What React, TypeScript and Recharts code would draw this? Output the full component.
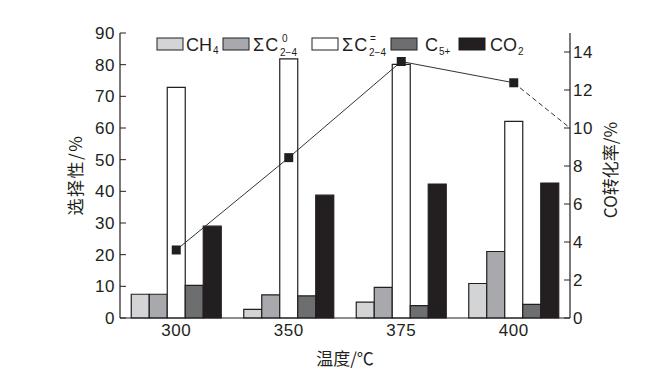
import React from 'react';
import { ComposedChart, Bar, Line, XAxis, YAxis, Customized } from 'recharts';

const temps = ['300', '350', '375', '400'];
const ch4 = [7.5, 2.7, 5.0, 10.9];
const c0 = [7.5, 7.3, 9.7, 21.0];
const cEq = [72.8, 81.8, 80.1, 62.1];
const c5 = [10.3, 7.0, 3.9, 4.3];
const co2 = [29.0, 38.8, 42.3, 42.6];
const coConv = [3.58, 8.44, 13.5, 12.38];
const coConvTrendEnd = 10.0;

const leftTicks = [0, 10, 20, 30, 40, 50, 60, 70, 80, 90];
const rightTicks = [0, 2, 4, 6, 8, 10, 12, 14];

const colors = {
  ch4: '#d3d4d6',
  c0: '#a8a9ac',
  cEq: '#ffffff',
  c5: '#6d6e70',
  co2: '#231f20',
};
const INK = '#231f20';
const FONT = '"Liberation Sans", Arial, sans-serif';
const CJK = '"Noto Sans CJK SC", "Liberation Sans", sans-serif';

const data = temps.map((t, i) => ({
  t,
  ch4: ch4[i],
  c0: c0[i],
  cEq: cEq[i],
  c5: c5[i],
  co2: co2[i],
}));

const lineData = temps.map((t, i) => ({ x: i + 0.5, v: coConv[i] }));
const dashData = [
  { x: temps.length - 0.5, v: coConv[coConv.length - 1] },
  { x: temps.length, v: coConvTrendEnd },
];

const SquareDot = (props: any) => {
  const { cx, cy } = props;
  if (cx == null || cy == null) return null;
  return <rect x={cx - 4.5} y={cy - 4.5} width={9} height={9} fill={INK} />;
};

const Decor = () => {
  const ty = 51;
  const sw = (x: number, fill: string) => (
    <rect x={x} y={38} width={26} height={12} fill={fill} stroke={INK} strokeWidth={1} />
  );
  const t = { fontFamily: FONT, fill: INK } as any;
  return (
    <g>
      {sw(157, colors.ch4)}
      <text x={186} y={ty} fontSize={18} {...t}>CH</text>
      <text x={213} y={ty + 3} fontSize={10} {...t}>4</text>

      {sw(223, colors.c0)}
      <text x={253} y={ty} fontSize={18} {...t} letterSpacing={1}>ΣC</text>
      <text x={282} y={ty - 9} fontSize={10} {...t}>0</text>
      <text x={280} y={ty + 5} fontSize={10} {...t}>2−4</text>

      {sw(312, colors.cEq)}
      <text x={342} y={ty} fontSize={18} {...t} letterSpacing={1}>ΣC</text>
      <text x={370} y={ty - 9} fontSize={10} {...t}>=</text>
      <text x={369} y={ty + 5} fontSize={10} {...t}>2−4</text>

      {sw(391, colors.c5)}
      <text x={425} y={ty} fontSize={18} {...t}>C</text>
      <text x={439} y={ty + 4} fontSize={10} {...t}>5+</text>

      {sw(459, colors.co2)}
      <text x={490} y={ty} fontSize={18} {...t}>CO</text>
      <text x={518} y={ty + 4} fontSize={10} {...t}>2</text>

      <text
        x={74}
        y={175}
        transform="rotate(-90 74 175)"
        textAnchor="middle"
        dominantBaseline="central"
        fontSize={17}
        letterSpacing={1.5}
        fontFamily={CJK}
        fill={INK}
      >
        选择性/%
      </text>
      <text
        x={609}
        y={170}
        transform="rotate(-90 609 170)"
        textAnchor="middle"
        dominantBaseline="central"
        fontSize={17}
        fontFamily={CJK}
        fill={INK}
      >
        CO转化率/%
      </text>
      <text
        x={345}
        y={357}
        textAnchor="middle"
        dominantBaseline="central"
        fontSize={17}
        fontFamily={CJK}
        fill={INK}
      >
        温度/℃
      </text>
    </g>
  );
};

const tickStyle = { fontSize: 17, fontFamily: FONT, fill: INK, letterSpacing: 0.5 };

export default function App() {
  return (
    <div style={{ position: 'absolute', left: 0, top: 0, background: '#fff' }}>
      <ComposedChart
        width={661}
        height={375}
        data={data}
        margin={{ top: 33, right: 31, bottom: 0, left: 60 }}
        barCategoryGap="10%"
        barGap={0}
      >
        <XAxis
          xAxisId="cat"
          dataKey="t"
          type="category"
          axisLine={{ stroke: INK, strokeWidth: 1.2 }}
          tickLine={false}
          tickSize={0}
          tickMargin={6}
          height={57}
          tick={tickStyle}
          interval={0}
        />
        <XAxis
          xAxisId="num"
          dataKey="x"
          type="number"
          orientation="top"
          domain={[0, 4]}
          allowDataOverflow
          height={0}
          tick={false}
          tickLine={false}
          axisLine={{ stroke: INK, strokeWidth: 1.2 }}
        />
        <YAxis
          yAxisId="left"
          orientation="left"
          domain={[0, 90]}
          ticks={leftTicks}
          interval={0}
          width={60}
          tickSize={-6}
          tickMargin={11}
          axisLine={{ stroke: INK, strokeWidth: 1.2 }}
          tickLine={{ stroke: INK }}
          tick={tickStyle}
        />
        <YAxis
          yAxisId="right"
          orientation="right"
          domain={[0, 15]}
          ticks={rightTicks}
          interval={0}
          width={60}
          tickSize={-6}
          tickMargin={9}
          axisLine={{ stroke: INK, strokeWidth: 1.2 }}
          tickLine={{ stroke: INK }}
          tick={{ ...tickStyle, textAnchor: 'start' }}
        />
        <Bar xAxisId="cat" yAxisId="left" dataKey="ch4" fill={colors.ch4} stroke={INK} strokeWidth={1.2} isAnimationActive={false} />
        <Bar xAxisId="cat" yAxisId="left" dataKey="c0" fill={colors.c0} stroke={INK} strokeWidth={1.2} isAnimationActive={false} />
        <Bar xAxisId="cat" yAxisId="left" dataKey="cEq" fill={colors.cEq} stroke={INK} strokeWidth={1.2} isAnimationActive={false} />
        <Bar xAxisId="cat" yAxisId="left" dataKey="c5" fill={colors.c5} stroke={INK} strokeWidth={1.2} isAnimationActive={false} />
        <Bar xAxisId="cat" yAxisId="left" dataKey="co2" fill={colors.co2} stroke={INK} strokeWidth={1.2} isAnimationActive={false} />
        <Line
          xAxisId="num"
          yAxisId="right"
          data={dashData}
          dataKey="v"
          type="linear"
          stroke="#333"
          strokeWidth={1}
          strokeDasharray="5 3"
          dot={false}
          activeDot={false}
          isAnimationActive={false}
        />
        <Line
          xAxisId="num"
          yAxisId="right"
          data={lineData}
          dataKey="v"
          type="linear"
          stroke="#333"
          strokeWidth={1}
          dot={<SquareDot />}
          activeDot={false}
          isAnimationActive={false}
        />
        <Customized component={Decor} />
      </ComposedChart>
    </div>
  );
}
